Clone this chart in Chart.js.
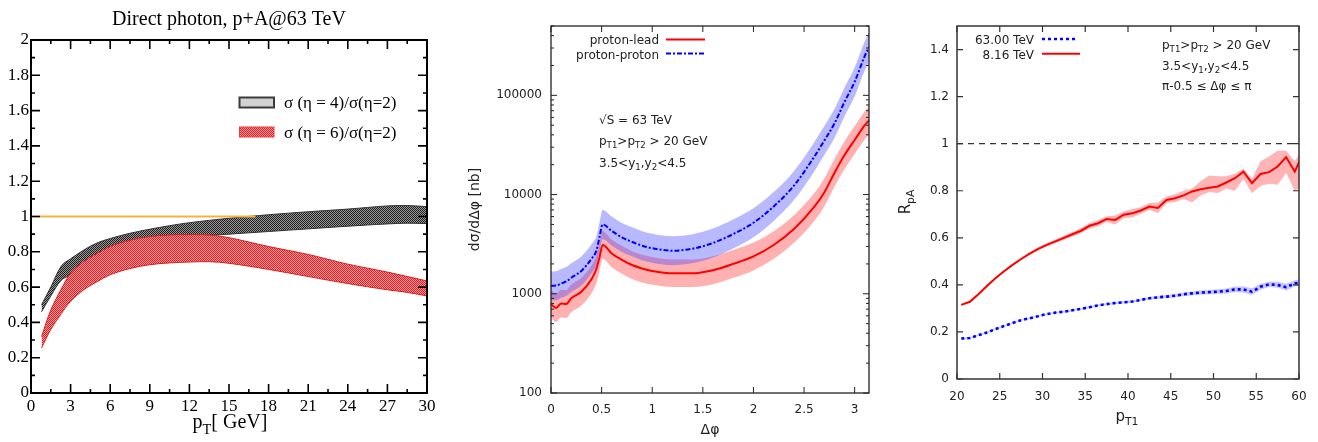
<!DOCTYPE html>
<html>
<head>
<meta charset="utf-8">
<script src="https://cdn.jsdelivr.net/npm/chart.js@4.4.1/dist/chart.umd.min.js"></script>
<style>
  html, body { margin: 0; padding: 0; background: #fff; }
  #wrap { position: relative; width: 1318px; height: 442px; }
  canvas { position: absolute; top: 0; }
</style>
</head>
<body>
<div id="wrap">
  <canvas id="photonChart" width="440" height="442" style="left:0"></canvas>
  <canvas id="dphiChart" width="420" height="442" style="left:460px"></canvas>
  <canvas id="rpaChart" width="438" height="442" style="left:880px"></canvas>
</div>
<script>
// ---------- panel 1: direct photon ratios (bands)
const ptGamma   = [0.8, 1.5, 2.3, 3, 4, 5, 6, 7.5, 9, 10.5, 12, 13.5, 15, 18, 21, 24, 27, 28.5, 30];
const eta4Upper = [0.50, 0.60, 0.72, 0.76, 0.81, 0.85, 0.875, 0.905, 0.928, 0.948, 0.965, 0.978, 0.99, 1.01, 1.027, 1.042, 1.06, 1.062, 1.056];
const eta4Lower = [0.46, 0.55, 0.64, 0.67, 0.73, 0.78, 0.82, 0.852, 0.872, 0.885, 0.89, 0.893, 0.90, 0.915, 0.93, 0.945, 0.958, 0.962, 0.96];
const eta6Upper = [0.32, 0.47, 0.59, 0.68, 0.745, 0.79, 0.83, 0.865, 0.886, 0.895, 0.897, 0.895, 0.88, 0.83, 0.785, 0.73, 0.685, 0.66, 0.635];
const eta6Lower = [0.255, 0.36, 0.45, 0.52, 0.585, 0.63, 0.67, 0.705, 0.727, 0.737, 0.742, 0.744, 0.735, 0.70, 0.66, 0.62, 0.585, 0.57, 0.55];
const unityX = [0, 17];
const unityY = [1, 1];
const photonXTicks = [0, 3, 6, 9, 12, 15, 18, 21, 24, 27, 30];
const photonYTicks = [0, 0.2, 0.4, 0.6, 0.8, 1, 1.2, 1.4, 1.6, 1.8, 2];

// ---------- panel 2: d sigma / d delta phi
const dphi      = [0, 0.05, 0.1, 0.15, 0.2, 0.3, 0.4, 0.45, 0.48, 0.51, 0.6, 0.7, 0.8, 0.9, 1.0, 1.2, 1.4, 1.6, 1.8, 2.0, 2.2, 2.4, 2.6, 2.7, 2.8, 2.9, 3.0, 3.1, 3.1416];
const leadMid   = [790, 720, 800, 790, 900, 1050, 1400, 1800, 2350, 3100, 2550, 2200, 1950, 1800, 1700, 1610, 1610, 1730, 2000, 2380, 3100, 4500, 7500, 10500, 16500, 25000, 35500, 50000, 56000];
const leadHigh  = [1090, 1000, 1100, 1090, 1240, 1450, 1930, 2480, 3250, 4280, 3520, 3040, 2690, 2480, 2350, 2220, 2220, 2390, 2760, 3280, 4280, 6200, 10300, 14500, 22800, 34500, 49000, 69000, 77000];
const leadLow   = [570, 520, 580, 570, 650, 760, 1010, 1300, 1700, 2250, 1850, 1590, 1410, 1300, 1230, 1170, 1170, 1250, 1450, 1720, 2250, 3260, 5430, 7600, 12000, 18100, 25700, 36200, 40600];
const ppMid     = [1200, 1210, 1270, 1330, 1450, 1700, 2250, 2750, 3750, 5000, 4300, 3700, 3340, 3050, 2880, 2720, 2850, 3250, 4000, 5200, 7600, 12300, 24000, 35000, 52000, 86000, 137000, 250000, 305000];
const ppHigh    = [1680, 1690, 1780, 1860, 2030, 2380, 3150, 3850, 5250, 7000, 6020, 5180, 4680, 4270, 4030, 3810, 3990, 4550, 5600, 7280, 10600, 17200, 33600, 49000, 72800, 120000, 192000, 350000, 427000];
const ppLow     = [860, 860, 910, 950, 1040, 1210, 1610, 1960, 2680, 3570, 3070, 2640, 2390, 2180, 2060, 1940, 2040, 2320, 2860, 3710, 5430, 8790, 17100, 25000, 37100, 61400, 97900, 179000, 218000];
const dphiXTicks = [0, 0.5, 1, 1.5, 2, 2.5, 3];
const dphiYTicks = [100, 1000, 10000, 100000];

// ---------- panel 3: R_pA vs pT1
const pT1 = [20.5, 21.5, 22.5, 23.5, 24.5, 25.5, 26.5, 27.5, 28.5, 29.5, 30.5, 31.5, 32.5, 33.5, 34.5, 35.5, 36.5, 37.5, 38.5, 39.5,
             40.5, 41.5, 42.5, 43.5, 44.5, 45.5, 46.5, 47.5, 48.5, 49.5, 50.5, 51.5, 52.5, 53.5, 54.5, 55.5, 56.5, 57.5, 58.5, 59.5, 60.5];
const rpa816    = [0.315, 0.328, 0.36, 0.395, 0.428, 0.458, 0.485, 0.51, 0.533, 0.553, 0.57, 0.585, 0.60, 0.615, 0.63, 0.651, 0.662, 0.68, 0.676, 0.698,
                   0.704, 0.716, 0.733, 0.727, 0.761, 0.768, 0.78, 0.797, 0.806, 0.813, 0.818, 0.835, 0.853, 0.881, 0.832, 0.871, 0.879, 0.903, 0.943, 0.881, 0.96];
const rpa816Hi  = [0.318, 0.331, 0.363, 0.398, 0.431, 0.461, 0.489, 0.514, 0.538, 0.559, 0.577, 0.593, 0.609, 0.625, 0.641, 0.663, 0.676, 0.692, 0.695, 0.712,
                   0.722, 0.73, 0.748, 0.75, 0.775, 0.785, 0.80, 0.81, 0.84, 0.865, 0.862, 0.862, 0.872, 0.895, 0.85, 0.925, 0.945, 0.97, 0.97, 0.925, 0.98];
const rpa816Lo  = [0.312, 0.325, 0.357, 0.392, 0.425, 0.455, 0.481, 0.506, 0.528, 0.547, 0.563, 0.577, 0.591, 0.605, 0.619, 0.639, 0.648, 0.668, 0.657, 0.684,
                   0.686, 0.702, 0.718, 0.705, 0.747, 0.752, 0.765, 0.75, 0.78, 0.795, 0.79, 0.81, 0.80, 0.85, 0.79, 0.82, 0.83, 0.825, 0.875, 0.80, 0.82];
const rpa63     = [0.172, 0.174, 0.186, 0.198, 0.212, 0.225, 0.238, 0.25, 0.258, 0.267, 0.276, 0.282, 0.286, 0.292, 0.298, 0.305, 0.313, 0.318, 0.323, 0.326,
                   0.329, 0.336, 0.343, 0.347, 0.35, 0.354, 0.36, 0.364, 0.367, 0.369, 0.371, 0.374, 0.381, 0.381, 0.371, 0.392, 0.402, 0.40, 0.39, 0.406, 0.41];
const rpa63Hi   = [0.175, 0.177, 0.189, 0.201, 0.215, 0.228, 0.241, 0.253, 0.261, 0.270, 0.279, 0.285, 0.290, 0.296, 0.302, 0.309, 0.317, 0.322, 0.327, 0.331,
                   0.334, 0.341, 0.348, 0.353, 0.357, 0.361, 0.368, 0.372, 0.376, 0.378, 0.381, 0.385, 0.393, 0.394, 0.386, 0.405, 0.413, 0.413, 0.405, 0.42, 0.425];
const rpa63Lo   = [0.169, 0.171, 0.183, 0.195, 0.209, 0.222, 0.235, 0.247, 0.255, 0.264, 0.273, 0.279, 0.282, 0.288, 0.294, 0.301, 0.309, 0.314, 0.319, 0.321,
                   0.324, 0.331, 0.338, 0.341, 0.343, 0.347, 0.352, 0.356, 0.358, 0.36, 0.361, 0.363, 0.369, 0.368, 0.357, 0.379, 0.391, 0.388, 0.376, 0.393, 0.395];
const rpaRefX = [20, 60];
const rpaRefY = [1, 1];
const rpaXTicks = [20, 25, 30, 35, 40, 45, 50, 55, 60];
const rpaYTicks = [0, 0.2, 0.4, 0.6, 0.8, 1, 1.2, 1.4];

// ---------- helpers
const pts = (xs, ys) => xs.map((x, i) => ({ x: x, y: ys[i] }));
const fixTicks = list => scale => { scale.ticks = list.map(v => ({ value: v })); };

function checker(c1, c2) {
  const tile = document.createElement("canvas");
  tile.width = 2; tile.height = 2;
  const g = tile.getContext("2d");
  g.fillStyle = c2; g.fillRect(0, 0, 2, 2);
  g.fillStyle = c1; g.fillRect(0, 0, 1, 1); g.fillRect(1, 1, 1, 1);
  return g.createPattern(tile, "repeat");
}
const grayHatch = checker("#1e1e1e", "#9a9a9a");
const redHatch = checker("#e41b23", "#ff9c9c");

// text with subscripts: parts = [[text, isSub], ...]
function rich(ctx, parts, x, y, size, family, align) {
  const fontOf = sub => (sub ? size * 0.72 : size) + "px " + family;
  let w = 0;
  parts.forEach(p => { ctx.font = fontOf(p[1]); w += ctx.measureText(p[0]).width; });
  let cx = align === "right" ? x - w : align === "center" ? x - w / 2 : x;
  ctx.textAlign = "left";
  ctx.textBaseline = "alphabetic";
  parts.forEach(p => {
    ctx.font = fontOf(p[1]);
    ctx.fillText(p[0], cx, y + (p[1] ? size * 0.28 : 0));
    cx += ctx.measureText(p[0]).width;
  });
}

// frame around the plot with inward ticks on all four sides
const framePlugin = {
  id: "frame",
  afterDatasetsDraw(chart, args, o) {
    const { ctx, chartArea: a } = chart;
    const x = chart.scales.x, y = chart.scales.y;
    ctx.save();
    ctx.strokeStyle = o.color;
    ctx.lineWidth = o.tickWidth;
    const mark = (axis, vals, len) => {
      ctx.beginPath();
      vals.forEach(v => {
        const p = axis.getPixelForValue(v);
        if (axis === x) {
          ctx.moveTo(p, a.bottom); ctx.lineTo(p, a.bottom - len);
          ctx.moveTo(p, a.top); ctx.lineTo(p, a.top + len);
        } else {
          ctx.moveTo(a.left, p); ctx.lineTo(a.left + len, p);
          ctx.moveTo(a.right, p); ctx.lineTo(a.right - len, p);
        }
      });
      ctx.stroke();
    };
    mark(x, x.ticks.map(t => t.value), o.major);
    mark(y, y.ticks.map(t => t.value), o.major);
    if (o.xMinor) mark(x, o.xMinor, o.minor);
    if (o.yMinor) mark(y, o.yMinor, o.minor);
    ctx.lineWidth = o.width;
    ctx.strokeRect(a.left, a.top, a.right - a.left, a.bottom - a.top);
    ctx.restore();
  }
};

// legends, annotations and rich axis titles
const notesPlugin = {
  id: "notes",
  afterDraw(chart, args, o) {
    const ctx = chart.ctx;
    ctx.save();
    (o.items || []).forEach(it => {
      if (it.line !== undefined) {
        const ds = chart.data.datasets[it.line];
        ctx.strokeStyle = ds.borderColor;
        ctx.lineWidth = ds.borderWidth;
        ctx.setLineDash(ds.borderDash || []);
        ctx.beginPath(); ctx.moveTo(it.x1, it.y); ctx.lineTo(it.x2, it.y); ctx.stroke();
        ctx.setLineDash([]);
      } else if (it.box) {
        ctx.fillStyle = it.fill;
        ctx.fillRect(it.x, it.y, it.w, it.h);
        ctx.strokeStyle = it.stroke; ctx.lineWidth = it.lw;
        ctx.strokeRect(it.x, it.y, it.w, it.h);
      } else {
        ctx.fillStyle = o.color;
        if (it.rotate) {
          ctx.save();
          ctx.translate(it.x, it.y);
          ctx.rotate(-Math.PI / 2);
          rich(ctx, it.parts, 0, 0, it.size || o.size, o.family, "center");
          ctx.restore();
        } else {
          rich(ctx, it.parts, it.x, it.y, it.size || o.size, o.family, it.align || "left");
        }
      }
    });
    ctx.restore();
  }
};

const serif = "'Liberation Serif', 'Times New Roman', serif";
const sans = "'DejaVu Sans', Verdana, sans-serif";

function baseOptions(p) {
  return {
    responsive: false,
    animation: false,
    events: [],
    layout: { padding: p.padding },
    elements: { point: { radius: 0 } },
    plugins: {
      legend: { display: false },
      tooltip: { enabled: false },
      title: p.title || { display: false },
      frame: p.frame,
      notes: p.notes
    },
    scales: {
      x: Object.assign({
        type: "linear",
        grid: { display: false, drawTicks: false },
        border: { display: false },
        ticks: { font: p.tickFont, color: p.tickColor, padding: p.xPad, autoSkip: false, maxRotation: 0, callback: v => String(v) },
        afterFit: s => { s.height = p.xHeight; }
      }, p.x),
      y: Object.assign({
        grid: { display: false, drawTicks: false },
        border: { display: false },
        ticks: { font: p.tickFont, color: p.tickColor, padding: p.yPad, autoSkip: false, callback: v => String(v) },
        afterFit: s => { s.width = p.yWidth; }
      }, p.y)
    }
  };
}

// minor tick positions (frame decoration only)
const steps = (from, to, step) => {
  const out = [];
  for (let v = from; v <= to + 1e-9; v += step) out.push(+v.toFixed(4));
  return out;
};
const logMinor = [];
[100, 1000, 10000, 100000].forEach(d => { for (let k = 2; k <= 9; k++) if (d * k <= 500000) logMinor.push(d * k); });

window.onload = function () {
  // ---------------- panel 1
  new Chart(document.getElementById("photonChart").getContext("2d"), {
    type: "line",
    data: {
      datasets: [
        { data: pts(unityX, unityY), borderColor: "#f2b441", borderWidth: 2, fill: false },
        { data: pts(ptGamma, eta6Lower), borderColor: "#d42020", borderWidth: 1, fill: false, tension: 0.35 },
        { data: pts(ptGamma, eta6Upper), borderColor: "#d42020", borderWidth: 1, fill: 1, backgroundColor: redHatch, tension: 0.35 },
        { data: pts(ptGamma, eta4Lower), borderColor: "#333333", borderWidth: 1, fill: false, tension: 0.35 },
        { data: pts(ptGamma, eta4Upper), borderColor: "#333333", borderWidth: 1, fill: 3, backgroundColor: grayHatch, tension: 0.35 }
      ]
    },
    options: baseOptions({
      padding: { left: 0, right: 13, top: 0, bottom: 0 },
      title: { display: true, fullSize: false, text: "Direct photon, p+A@63 TeV", color: "#000",
               font: { family: serif, size: 20, weight: "normal" }, padding: { top: 8, bottom: 8 } },
      tickFont: { family: serif, size: 17 }, tickColor: "#000",
      xPad: 3, yPad: 2, xHeight: 49, yWidth: 31,
      x: { min: 0, max: 30, afterBuildTicks: fixTicks(photonXTicks) },
      y: { type: "linear", min: 0, max: 2, afterBuildTicks: fixTicks(photonYTicks) },
      frame: { color: "#000", width: 2, tickWidth: 1.6, major: 9, minor: 4,
               xMinor: steps(1.5, 30, 3), yMinor: steps(0.1, 2, 0.2) },
      notes: {
        family: serif, size: 17, color: "#000",
        items: [
          { box: true, x: 239.5, y: 97.5, w: 34.5, h: 10, fill: "#d2d2d2", stroke: "#3a3a3a", lw: 2 },
          { parts: [["σ (η = 4)/σ(η=2)"]], x: 284, y: 108 },
          { box: true, x: 239.5, y: 127, w: 34.5, h: 10, fill: redHatch, stroke: "#e04040", lw: 1 },
          { parts: [["σ (η = 6)/σ(η=2)"]], x: 284, y: 138 },
          { parts: [["p"], ["T", 1], ["[ GeV]"]], x: 230, y: 428, size: 20, align: "center" }
        ]
      }
    }),
    plugins: [framePlugin, notesPlugin]
  });

  // ---------------- panel 2
  new Chart(document.getElementById("dphiChart").getContext("2d"), {
    type: "line",
    data: {
      datasets: [
        { data: pts(dphi, leadMid), borderColor: "#ff0000", borderWidth: 2, fill: false, cubicInterpolationMode: "monotone" },
        { data: pts(dphi, ppMid), borderColor: "#0000ff", borderWidth: 2, borderDash: [5, 2, 2, 2], fill: false, cubicInterpolationMode: "monotone" },
        { data: pts(dphi, ppLow), borderWidth: 0, borderColor: "rgba(0,0,0,0)", fill: false, cubicInterpolationMode: "monotone" },
        { data: pts(dphi, ppHigh), borderWidth: 0, borderColor: "rgba(0,0,0,0)", fill: 2, backgroundColor: "rgba(60,60,255,0.36)", cubicInterpolationMode: "monotone" },
        { data: pts(dphi, leadLow), borderWidth: 0, borderColor: "rgba(0,0,0,0)", fill: false, cubicInterpolationMode: "monotone" },
        { data: pts(dphi, leadHigh), borderWidth: 0, borderColor: "rgba(0,0,0,0)", fill: 4, backgroundColor: "rgba(255,60,60,0.4)", cubicInterpolationMode: "monotone" }
      ]
    },
    options: baseOptions({
      padding: { left: 0, right: 11, top: 26, bottom: 0 },
      tickFont: { family: sans, size: 12 }, tickColor: "#222",
      xPad: 10, yPad: 9, xHeight: 49, yWidth: 91,
      x: { min: 0, max: Math.PI, afterBuildTicks: fixTicks(dphiXTicks),
           title: { display: true, text: "Δφ", color: "#222", font: { family: sans, size: 14 }, padding: { top: 0, bottom: 3 } } },
      y: { type: "logarithmic", min: 100, max: 500000, afterBuildTicks: fixTicks(dphiYTicks),
           title: { display: true, text: "dσ/dΔφ [nb]", color: "#222", font: { family: sans, size: 14 }, padding: { top: 7, bottom: 0 } } },
      frame: { color: "#222", width: 1.3, tickWidth: 1, major: 6, minor: 3, yMinor: logMinor },
      notes: {
        family: sans, size: 12, color: "#222",
        items: [
          { parts: [["proton-lead"]], x: 199, y: 44, align: "right" },
          { line: 0, x1: 206, x2: 245, y: 39.5 },
          { parts: [["proton-proton"]], x: 199, y: 58.5, align: "right" },
          { line: 1, x1: 206, x2: 245, y: 53.5 },
          { parts: [["√S = 63 TeV"]], x: 139, y: 124 },
          { parts: [["p"], ["T1", 1], [">p"], ["T2", 1], [" > 20 GeV"]], x: 139, y: 145 },
          { parts: [["3.5<y"], ["1", 1], [",y"], ["2", 1], ["<4.5"]], x: 139, y: 166.5 }
        ]
      }
    }),
    plugins: [framePlugin, notesPlugin]
  });

  // ---------------- panel 3
  new Chart(document.getElementById("rpaChart").getContext("2d"), {
    type: "line",
    data: {
      datasets: [
        { data: pts(rpaRefX, rpaRefY), borderColor: "#333", borderWidth: 1.2, borderDash: [6, 5], fill: false },
        { data: pts(pT1, rpa816), borderColor: "#ff0000", borderWidth: 2, fill: false },
        { data: pts(pT1, rpa63), borderColor: "#0000ff", borderWidth: 2.6, borderDash: [3, 3], fill: false },
        { data: pts(pT1, rpa816Lo), borderWidth: 0, borderColor: "rgba(0,0,0,0)", fill: false },
        { data: pts(pT1, rpa816Hi), borderWidth: 0, borderColor: "rgba(0,0,0,0)", fill: 3, backgroundColor: "rgba(255,70,70,0.4)" },
        { data: pts(pT1, rpa63Lo), borderWidth: 0, borderColor: "rgba(0,0,0,0)", fill: false },
        { data: pts(pT1, rpa63Hi), borderWidth: 0, borderColor: "rgba(0,0,0,0)", fill: 5, backgroundColor: "rgba(70,70,255,0.3)" }
      ]
    },
    options: baseOptions({
      padding: { left: 0, right: 19, top: 26, bottom: 0 },
      tickFont: { family: sans, size: 12 }, tickColor: "#222",
      xPad: 11, yPad: 8, xHeight: 63, yWidth: 77,
      x: { min: 20, max: 60, afterBuildTicks: fixTicks(rpaXTicks) },
      y: { type: "linear", min: 0, max: 1.5, afterBuildTicks: fixTicks(rpaYTicks) },
      frame: { color: "#333", width: 1.5, tickWidth: 1.2, major: 6, minor: 3 },
      notes: {
        family: sans, size: 12, color: "#222",
        items: [
          { parts: [["63.00 TeV"]], x: 154, y: 44, align: "right" },
          { line: 2, x1: 162, x2: 197, y: 39 },
          { parts: [["8.16 TeV"]], x: 154, y: 59, align: "right" },
          { line: 1, x1: 162, x2: 200, y: 53.7 },
          { parts: [["p"], ["T1", 1], [">p"], ["T2", 1], [" > 20 GeV"]], x: 282, y: 49 },
          { parts: [["3.5<y"], ["1", 1], [",y"], ["2", 1], ["<4.5"]], x: 282, y: 69.5 },
          { parts: [["π-0.5 ≤ Δφ ≤ π"]], x: 282, y: 90 },
          { parts: [["R"], ["pA", 1]], x: 30, y: 202, size: 15, rotate: true },
          { parts: [["p"], ["T1", 1]], x: 247, y: 421, size: 15, align: "center" }
        ]
      }
    }),
    plugins: [framePlugin, notesPlugin]
  });
};
</script>
</body>
</html>
